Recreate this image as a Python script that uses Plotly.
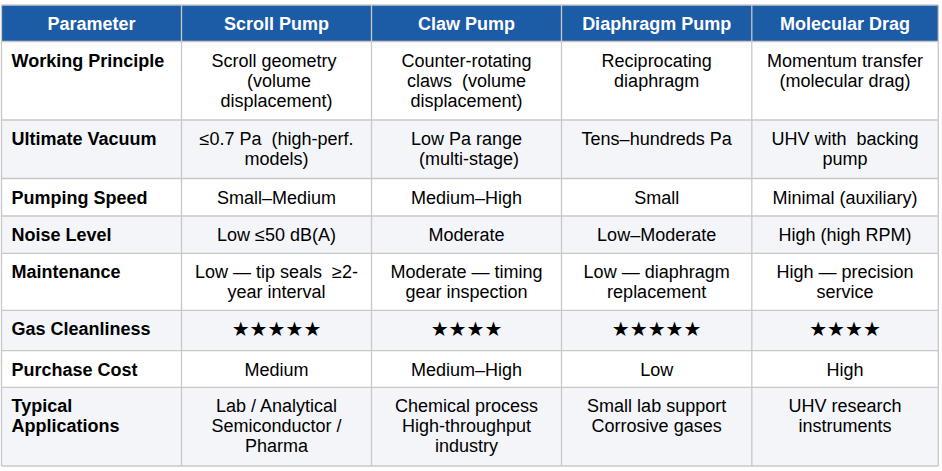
import plotly.graph_objects as go

# ---------------- data ----------------
header = ["Parameter", "Scroll Pump", "Claw Pump", "Diaphragm Pump", "Molecular Drag"]

parameters = ["Working Principle", "Ultimate Vacuum", "Pumping Speed", "Noise Level",
              "Maintenance", "Gas Cleanliness", "Purchase Cost", "Typical<br>Applications"]

scroll = ["Scroll geometry\u00a0<br>\u00a0(volume<br>displacement)", "≤0.7 Pa\u00a0 (high-perf.<br>models)",
          "Small–Medium", "Low ≤50 dB(A)", "Low — tip seals\u00a0 ≥2-<br>year interval",
          "★★★★★", "Medium", "Lab / Analytical<br>Semiconductor /<br>Pharma"]

claw = ["Counter-rotating<br>claws\u00a0 (volume<br>displacement)", "Low Pa range<br>\u00a0(multi-stage)",
        "Medium–High", "Moderate", "Moderate — timing<br>gear inspection",
        "★★★★", "Medium–High", "Chemical process<br>High-throughput<br>industry"]

diaphragm = ["Reciprocating<br>diaphragm", "Tens–hundreds Pa", "Small", "Low–Moderate",
             "Low — diaphragm<br>replacement", "★★★★★", "Low",
             "Small lab support<br>Corrosive gases"]

molecular = ["Momentum transfer<br>(molecular drag)", "UHV with\u00a0 backing<br>pump",
             "Minimal (auxiliary)", "High (high RPM)", "High — precision<br>service",
             "★★★★", "High", "UHV research<br>instruments"]

columns = [parameters, scroll, claw, diaphragm, molecular]

# ---------------- layout / style constants ----------------
W, H = 942, 471
X0, Y0 = 1.5, 5.0
COL_WIDTHS = [180, 190, 190, 190.3, 186.5]
HEADER_H = 36.5
ROW_HEIGHTS = [78.5, 58.5, 37.5, 37.3, 57.0, 40.4, 36.6, 78.7]
FIRST_LINE = 20.5     # offset of first text line centre from row top
LINE_PITCH = 20.0
LEFT_PAD = 10.0

HEADER_BG = "#1c5ba6"
ROW_BG = ["#ffffff", "#f3f5f9"]
GRID = "#c8c8c8"
FONT = "Liberation Sans, Arial, sans-serif"

col_edges = [X0]
for w in COL_WIDTHS:
    col_edges.append(col_edges[-1] + w)
row_edges = [Y0, Y0 + HEADER_H]
for h in ROW_HEIGHTS:
    row_edges.append(row_edges[-1] + h)

shapes = []
# header background
shapes.append(dict(type="rect", xref="x", yref="y", x0=col_edges[0], x1=col_edges[-1],
                   y0=row_edges[0], y1=row_edges[1], fillcolor=HEADER_BG, line_width=0, layer="below"))
# body row backgrounds
for i in range(len(ROW_HEIGHTS)):
    shapes.append(dict(type="rect", xref="x", yref="y", x0=col_edges[0], x1=col_edges[-1],
                       y0=row_edges[i + 1], y1=row_edges[i + 2], fillcolor=ROW_BG[i % 2],
                       line_width=0, layer="below"))
# grid lines
for x in col_edges:
    shapes.append(dict(type="line", xref="x", yref="y", x0=x, x1=x, y0=row_edges[0], y1=row_edges[-1],
                       line=dict(color=GRID, width=1.3)))
for y in row_edges:
    shapes.append(dict(type="line", xref="x", yref="y", x0=col_edges[0], x1=col_edges[-1], y0=y, y1=y,
                       line=dict(color=GRID, width=1.3)))

fig = go.Figure()

# header text
hx = [(col_edges[j] + col_edges[j + 1]) / 2 for j in range(len(header))]
hy = [row_edges[0] + (row_edges[1] - row_edges[0]) / 2 + 2] * len(header)
fig.add_trace(go.Scatter(x=hx, y=hy, mode="text", text=[f"<b>{h}</b>" for h in header],
                         textposition="middle center",
                         textfont=dict(family=FONT, size=18, color="white"),
                         hoverinfo="skip", showlegend=False))

# body text, one point per line
px, py, pt = [], [], []        # first column (left, bold)
cx, cy, ct = [], [], []        # centred text
sx, sy, st = [], [], []        # star ratings
for j, col in enumerate(columns):
    for i, val in enumerate(col):
        top = row_edges[i + 1]
        lines = val.split("<br>")
        for k, line in enumerate(lines):
            y = top + FIRST_LINE + k * LINE_PITCH
            if j == 0:
                px.append(col_edges[0] + LEFT_PAD); py.append(y); pt.append(f"<b>{line}</b>")
            elif "★" in line:
                sx.append((col_edges[j] + col_edges[j + 1]) / 2); sy.append(y); st.append(line)
            else:
                cx.append((col_edges[j] + col_edges[j + 1]) / 2); cy.append(y); ct.append(line)

fig.add_trace(go.Scatter(x=px, y=py, mode="text", text=pt, textposition="middle right",
                         textfont=dict(family=FONT, size=18, color="#000000"),
                         hoverinfo="skip", showlegend=False))
fig.add_trace(go.Scatter(x=cx, y=cy, mode="text", text=ct, textposition="middle center",
                         textfont=dict(family=FONT, size=18, color="#000000"),
                         hoverinfo="skip", showlegend=False))
fig.add_trace(go.Scatter(x=sx, y=sy, mode="text", text=st, textposition="middle center",
                         textfont=dict(family="DejaVu Sans", size=20, color="#000000"),
                         hoverinfo="skip", showlegend=False))

fig.update_layout(
    width=W, height=H,
    margin=dict(l=0, r=0, t=0, b=0),
    paper_bgcolor="white", plot_bgcolor="white",
    shapes=shapes,
    xaxis=dict(range=[0, W], visible=False, fixedrange=True),
    yaxis=dict(range=[H, 0], visible=False, fixedrange=True),
)

fig.write_html("out.html", config={"displayModeBar": False},
               post_script="document.body.style.margin='0';document.body.style.overflow='hidden';")
